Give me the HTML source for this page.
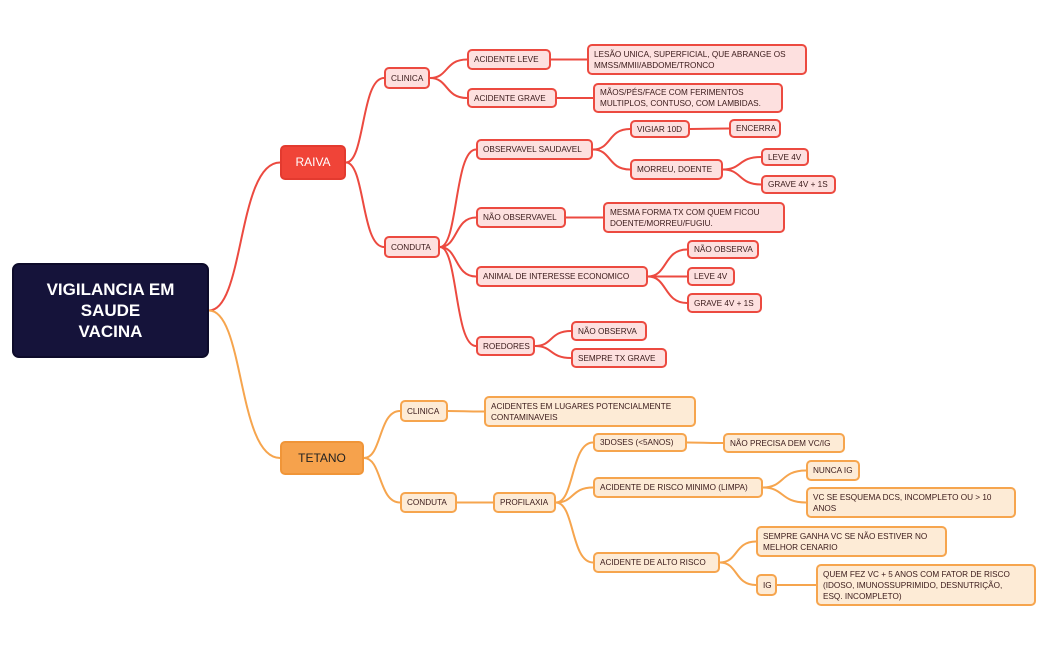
<!DOCTYPE html>
<html><head><meta charset="utf-8">
<style>
html,body{margin:0;padding:0;background:#fff;width:1048px;height:650px;overflow:hidden;position:relative;font-family:"Liberation Sans",sans-serif;}
.n{position:absolute;box-sizing:border-box;border-radius:5px;font-size:8.2px;line-height:11px;color:#3a1a1a;padding:0 5px;display:flex;align-items:center;white-space:nowrap;letter-spacing:0}
.r{background:#fde0df;border:2px solid #ec4a40}
.o{background:#fdebd6;border:2px solid #f6a54e}
svg{position:absolute;left:0;top:0}
</style></head><body>
<svg id="s" width="1048" height="650"></svg>
<div id="c"></div>
<script>
var N=[
["root",12,263,209,358,"VIGILANCIA EM<br>SAUDE<br>VACINA","root",null],
["raiva",280,145,346,180,"RAIVA","raiva","root"],
["tet",280,441,364,475,"TETANO","tet","root"],
["rc",384,67,430,89,"CLINICA","r","raiva"],
["al",467,49,551,70,"ACIDENTE LEVE","r","rc"],
["les",587,44,807,75,"LESÃO UNICA, SUPERFICIAL, QUE ABRANGE OS<br>MMSS/MMII/ABDOME/TRONCO","r","al"],
["ag",467,88,557,108,"ACIDENTE GRAVE","r","rc"],
["mao",593,83,783,113,"MÃOS/PÉS/FACE COM FERIMENTOS<br>MULTIPLOS, CONTUSO, COM LAMBIDAS.","r","ag"],
["rk",384,236,440,258,"CONDUTA","r","raiva"],
["os",476,139,593,160,"OBSERVAVEL SAUDAVEL","r","rk"],
["vg",630,120,690,138,"VIGIAR 10D","r","os"],
["enc",729,119,781,138,"ENCERRA","r","vg"],
["md",630,159,723,180,"MORREU, DOENTE","r","os"],
["l4",761,148,809,166,"LEVE 4V","r","md"],
["g4",761,175,836,194,"GRAVE 4V + 1S","r","md"],
["no",476,207,566,228,"NÃO OBSERVAVEL","r","rk"],
["mf",603,202,785,233,"MESMA FORMA TX COM QUEM FICOU<br>DOENTE/MORREU/FUGIU.","r","no"],
["an",476,266,648,287,"ANIMAL DE INTERESSE ECONOMICO","r","rk"],
["an1",687,240,759,259,"NÃO OBSERVA","r","an"],
["an2",687,267,735,286,"LEVE 4V","r","an"],
["an3",687,293,762,313,"GRAVE 4V + 1S","r","an"],
["ro",476,336,535,356,"ROEDORES","r","rk"],
["ro1",571,321,647,341,"NÃO OBSERVA","r","ro"],
["ro2",571,348,667,368,"SEMPRE TX GRAVE","r","ro"],
["tc",400,400,448,422,"CLINICA","o","tet"],
["ael",484,396,696,427,"ACIDENTES EM LUGARES POTENCIALMENTE<br>CONTAMINAVEIS","o","tc"],
["tk",400,492,457,513,"CONDUTA","o","tet"],
["pf",493,492,556,513,"PROFILAXIA","o","tk"],
["d3",593,433,687,452,"3DOSES (&lt;5ANOS)","o","pf"],
["np",723,433,845,453,"NÃO PRECISA DEM VC/IG","o","d3"],
["rm",593,477,763,498,"ACIDENTE DE RISCO MINIMO (LIMPA)","o","pf"],
["ni",806,460,860,481,"NUNCA IG","o","rm"],
["vc",806,487,1016,518,"VC SE ESQUEMA DCS, INCOMPLETO OU &gt; 10<br>ANOS","o","rm"],
["ar",593,552,720,573,"ACIDENTE DE ALTO RISCO","o","pf"],
["sg",756,526,947,557,"SEMPRE GANHA VC SE NÃO ESTIVER NO<br>MELHOR CENARIO","o","ar"],
["ig",756,574,777,596,"IG","o","ar"],
["qf",816,564,1036,606,"QUEM FEZ VC + 5 ANOS COM FATOR DE RISCO<br>(IDOSO, IMUNOSSUPRIMIDO, DESNUTRIÇÃO,<br>ESQ. INCOMPLETO)","o","ig"]
];
var M={},h="",p="";
N.forEach(function(n){M[n[0]]=n;});
N.forEach(function(n){
 var st="left:"+n[1]+"px;top:"+n[2]+"px;width:"+(n[3]-n[1])+"px;height:"+(n[4]-n[2])+"px;";
 var cls="n "+n[6];
 if(n[6]=="root"){st+="background:#15133a;border:2px solid #0d0b2a;color:#fff;font-size:17px;line-height:21px;justify-content:center;text-align:center;font-weight:bold;border-radius:7px;";cls="n";}
 else if(n[6]=="raiva"){st+="background:#f04438;border:2px solid #e33a2f;color:#fff;font-size:12px;justify-content:center;";cls="n";}
 else if(n[6]=="tet"){st+="background:#f6a24c;border:2px solid #f09538;color:#222;font-size:12px;justify-content:center;";cls="n";}
 h+='<div class="'+cls+'" style="'+st+'">'+n[5]+'</div>';
 if(n[7]){var q=M[n[7]];
  var x1=q[3],y1=(q[2]+q[4])/2,x2=n[1],y2=(n[2]+n[4])/2;
  var col=(n[6]=="o"||n[0]=="tet")?"#f6a54e":"#ec4a40";
  var dx=(x2-x1);
  p+='<path d="M'+x1+' '+y1+' C'+(x1+dx*0.5)+' '+y1+' '+(x1+dx*0.4)+' '+y2+' '+x2+' '+y2+'" fill="none" stroke="'+col+'" stroke-width="2"/>';
 }
});
document.getElementById("s").innerHTML=p;
document.getElementById("c").innerHTML=h;
</script>
</body></html>
